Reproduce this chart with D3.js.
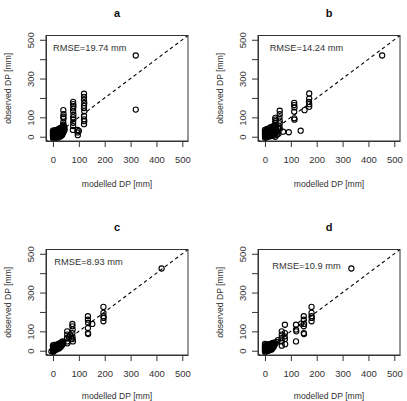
<!DOCTYPE html>
<html>
<head>
<meta charset="utf-8">
<script src="https://cdn.jsdelivr.net/npm/d3@7"></script>
<style>
  body { margin: 0; background: #fff; }
  svg { display: block; font-family: "Liberation Sans", Arial, Helvetica, sans-serif; }
</style>
</head>
<body>
<svg id="chart" width="407" height="401"></svg>
<script>
// panel letters and RMSE annotations
const panelNames = ['a', 'b', 'c', 'd']
const rmseLabels = ['RMSE=19.74 mm', 'RMSE=14.24 mm', 'RMSE=8.93 mm', 'RMSE=10.9 mm']
const labelX = [0, 18, 5, 28]
const labelY = [440, 440, 440, 420]
const tickValues = [0, 100, 200, 300, 400, 500]
const yTickShown = [0, 100, 300, 500]

// [modelled, observed] pairs
const pointsA = [
  [0,0],[0,6],[0,12],[0,18],[0,25],[0,32],[1,-6],[2,3],[3,9],[3,16],[4,22],[4,-2],[5,28],[6,5],[6,12],
  [7,18],[8,0],[8,34],[9,8],[10,14],[10,24],[11,3],[12,30],[13,10],[14,18],[14,0],[15,26],[16,6],
  [17,36],[18,14],[19,22],[20,2],[20,30],[21,9],[22,18],[23,40],[24,26],[25,6],[25,14],[26,34],
  [27,20],[28,44],[29,10],[30,28],[30,2],[31,38],[32,16],[33,48],[34,24],[35,8],[35,34],[36,42],
  [37,16],[38,52],[38,28],[39,36],[40,46],[40,22],[41,56],[42,30],[42,40],[43,50],
  [2,-10],[12,-6],[22,-4],[28,4],[33,14],[44,44],[45,36],
  [40,62],[40,75],[41,95],[40,103],[41,117],[40,137],
  [78,180],[78,168],[79,158],[78,146],[78,130],[79,112],[78,100],[79,90],[78,72],[78,55],[77,35],
  [95,35],[95,22],[96,8],[100,30],
  [120,222],[120,206],[120,191],[121,174],[120,160],[120,148],[121,131],[120,107],[120,90],[121,80],[120,65],
  [320,419],[320,140]
]
const pointsB = [
  [0,0],[0,7],[0,14],[0,21],[0,28],[0,35],[1,-6],[2,4],[3,11],[3,18],[4,25],[5,-2],[5,32],[6,8],
  [7,15],[8,40],[9,2],[10,22],[10,10],[11,30],[12,0],[13,16],[14,38],[15,6],[16,26],[17,12],[18,45],
  [19,20],[20,2],[21,32],[22,10],[23,50],[24,24],[25,16],[26,4],[27,38],[28,28],[29,12],[30,46],
  [31,20],[32,54],[33,34],[34,6],[35,26],[36,42],[37,14],[38,58],[39,30],[40,0],[42,20],[44,36],
  [46,10],[48,28],[50,44],[52,16],
  [40,97],[40,88],[41,80],[40,70],[40,60],[40,50],
  [57,134],[57,117],[56,100],[57,83],[57,69],[56,52],[57,40],
  [70,26],[92,23],[138,31],
  [113,175],[113,163],[114,151],[113,129],[113,95],[114,88],
  [153,137],
  [171,223],[171,197],[170,180],[171,168],[171,154],
  [453,419]
]
const pointsC = [
  [-6,-4],[0,0],[0,6],[0,12],[0,20],[0,28],[1,-6],[2,4],[3,10],[4,16],[4,30],[5,0],[6,22],[7,8],
  [8,14],[9,26],[10,4],[11,18],[12,10],[13,24],[14,32],[15,16],[16,8],[17,22],[18,28],[19,14],
  [20,34],[21,20],[22,26],[23,12],[24,30],[25,38],[26,22],[27,28],[28,34],[29,18],[30,40],[31,30],
  [32,24],[33,36],[34,44],[35,30],[36,40],[37,48],[38,34],[40,42],
  [55,100],[55,83],[54,65],[55,48],[56,38],
  [62,70],[66,80],[70,62],
  [75,138],[75,126],[76,109],[75,91],[75,74],[76,60],[77,48],
  [135,178],[135,160],[136,143],[135,117],[135,91],[136,86],
  [152,138],
  [195,226],[195,195],[195,178],[196,169],[195,152],
  [420,424]
]
const pointsD = [
  [0,-4],[0,2],[0,8],[0,14],[0,20],[0,28],[0,35],[1,-8],[2,4],[3,12],[3,24],[4,0],[5,18],[6,6],
  [7,30],[8,12],[9,2],[10,20],[11,8],[12,26],[13,14],[14,0],[15,34],[16,20],[17,8],[18,28],
  [19,14],[20,4],[21,24],[22,34],[23,12],[24,20],[25,30],[26,6],[27,38],[28,22],[29,14],[30,30],
  [31,40],[32,24],[33,18],[34,36],[35,28],[36,42],[38,32],[40,38],
  [50,55],[45,45],
  [65,100],[65,83],[64,65],[65,48],[65,26],
  [77,134],[77,91],[76,74],[77,60],[78,34],
  [120,134],[120,109],[121,100],[120,48],
  [140,140],
  [150,178],[150,160],[151,138],[150,126],[150,91],[151,86],
  [180,226],[180,195],[180,178],[181,169],[180,152],
  [334,424]
]
const allPoints = [pointsA, pointsB, pointsC, pointsD]

const svg = d3.select('#chart')
const boxW = 142, boxH = 105.5
const origins = [[46, 35.5], [258, 35.5], [46, 249.5], [258, 249.5]]
const xTitleGap = [46, 46, 43.5, 43.5]

const x = d3.scaleLinear().domain([-27, 522]).range([0, boxW])
const y = d3.scaleLinear().domain([-22, 522]).range([boxH, 0])

panelNames.forEach((name, i) => {
  const g = svg.append('g')
    .attr('transform', 'translate(' + origins[i][0] + ',' + origins[i][1] + ')')

  // 1:1 line
  g.append('clipPath').attr('id', 'clip' + i)
    .append('rect').attr('width', boxW).attr('height', boxH)
  g.append('line')
    .attr('clip-path', 'url(#clip' + i + ')')
    .attr('x1', x(-30)).attr('y1', y(-30))
    .attr('x2', x(530)).attr('y2', y(530))
    .attr('stroke', '#000')
    .attr('stroke-width', 1.1)
    .attr('stroke-dasharray', '3.5,3')

  g.append('g')
    .selectAll('circle')
    .data(allPoints[i])
    .join('circle')
    .attr('cx', d => x(d[0]))
    .attr('cy', d => y(d[1]))
    .attr('r', 2.6)
    .attr('fill', 'none')
    .attr('stroke', '#000')
    .attr('stroke-width', 1.1)

  g.append('rect')
    .attr('width', boxW).attr('height', boxH)
    .attr('fill', 'none').attr('stroke', '#333').attr('stroke-width', 1)

  // x axis
  const xa = g.append('g')
    .attr('transform', 'translate(0,' + boxH + ')')
    .call(d3.axisBottom(x).tickValues(tickValues).tickSize(6).tickSizeOuter(0))
  xa.select('.domain').attr('stroke', '#333')
  xa.selectAll('line').attr('stroke', '#333')
  xa.selectAll('text')
    .attr('y', 22).attr('dy', 0)
    .attr('fill', '#333').attr('font-size', '9.5px')
    .attr('font-family', '"Liberation Sans", Arial, sans-serif')

  // y axis
  const ya = g.append('g')
    .call(d3.axisLeft(y).tickValues(tickValues).tickSize(6).tickSizeOuter(0)
      .tickFormat(d => yTickShown.includes(d) ? d : ''))
  ya.select('.domain').attr('stroke', '#333')
  ya.selectAll('line').attr('stroke', '#333')
  ya.selectAll('text')
    .attr('transform', 'rotate(-90)')
    .attr('x', 0).attr('y', -12.5).attr('dy', 0)
    .attr('text-anchor', 'middle')
    .attr('fill', '#333').attr('font-size', '9.5px')
    .attr('font-family', '"Liberation Sans", Arial, sans-serif')

  g.append('text')
    .attr('x', boxW / 2).attr('y', boxH + xTitleGap[i])
    .attr('text-anchor', 'middle')
    .attr('font-size', '8.6px').attr('fill', '#333')
    .text('modelled DP [mm]')

  g.append('text')
    .attr('transform', 'translate(-35,' + boxH / 2 + ') rotate(-90)')
    .attr('text-anchor', 'middle')
    .attr('font-size', '8.6px').attr('fill', '#333')
    .text('observed DP [mm]')

  g.append('text')
    .attr('x', boxW / 2).attr('y', -19)
    .attr('text-anchor', 'middle')
    .attr('font-size', '11px').attr('font-weight', 'bold').attr('fill', '#111')
    .text(name)

  g.append('text')
    .attr('x', x(labelX[i])).attr('y', y(labelY[i]))
    .attr('font-size', '9.3px').attr('fill', '#333')
    .text(rmseLabels[i])
})
</script>
</body>
</html>
